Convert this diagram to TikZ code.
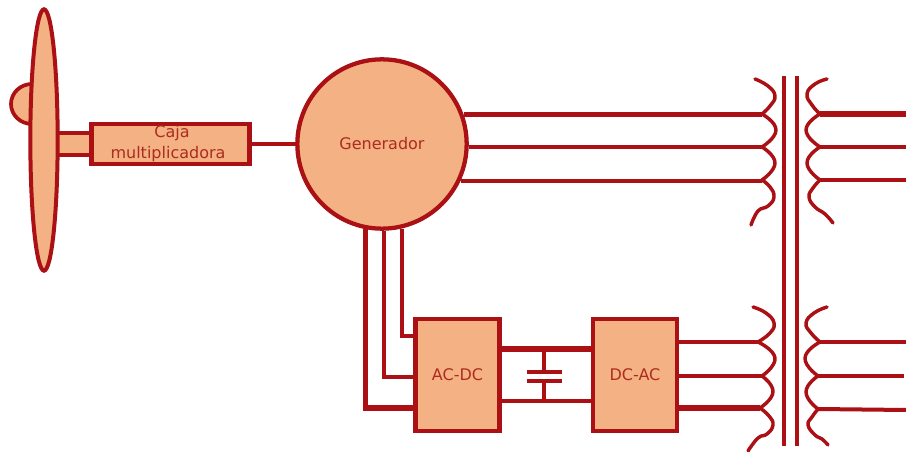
\documentclass[tikz,border=0pt]{standalone}
\usepackage{fontspec}
\setmainfont{DejaVu Sans}
\usetikzlibrary{shapes.geometric}
\definecolor{wline}{RGB}{170,16,20}
\definecolor{wfill}{RGB}{244,177,131}
\definecolor{wtext}{RGB}{172,44,32}
\tikzset{
  every node/.style={text=wtext,font=\fontsize{12pt}{14pt}\selectfont},
  unit/.style={draw=wline,fill=wfill,line width=3.6pt,inner sep=0pt,align=center,line join=miter},
  wire/.style={draw=wline,line width=3pt},
  thick wire/.style={draw=wline,line width=3.8pt},
  thin wire/.style={draw=wline,line width=2.6pt},
  coil/.style={draw=wline,line width=2.6pt,line cap=round,line join=round},
  corebar/.style={draw=wline,line width=3pt},
}
% one winding segment through three points
\newcommand{\seg}[3]{\draw[coil] plot[smooth,tension=0.9] coordinates {#1 #2 #3};}
\begin{document}
\begin{tikzpicture}[x=0.75pt,y=-0.75pt]
\useasboundingbox (0,0) rectangle (906,452);
% hub, shaft
\draw[unit,line width=2.8pt] (32,124) arc[start angle=90,end angle=270,x radius=21,y radius=20] -- cycle;
\draw[fill=wfill,draw=none] (55,134) rectangle (92,154);
\coordinate (s1a) at (55,133); \coordinate (s1b) at (92,133);
\coordinate (s2a) at (55,155); \coordinate (s2b) at (92,155);
\draw[wire] (s1a) -- (s1b);
\draw[wire] (s2a) -- (s2b);
% blade
\node[unit,shape=ellipse,line width=3pt,minimum width=20.5pt,minimum height=196pt,
      inner sep=0pt] (blade) at (44,140) {};
% gearbox
\node[unit,minimum width=118pt,minimum height=30pt] (gear) at (170.5,144) {};
\node (gearlabel1) at (172,133) {Caja};
\node (gearlabel2) at (168,154) {multiplicadora};
% generator
\node[unit,shape=circle,minimum size=127pt,line width=3.2pt] (gen) at (382,144) {Generador};
\draw[wire] (gear.east) -- (gen.west);
% converters
\node[unit,minimum width=62.5pt,minimum height=84pt] (acdc) at (457.5,375) {AC-DC};
\node[unit,minimum width=63pt,minimum height=84pt] (dcac) at (635,375) {DC-AC};
% generator to rectifier
\coordinate (b1) at (416,408); \coordinate (b2) at (416,377); \coordinate (b3) at (416,336);
\draw[thick wire] (gen.259) -- (gen.259 |- b1) -- (b1);
\draw[wire] (gen.271) -- (gen.271 |- b2) -- (b2);
\draw[wire] (gen.283) -- (gen.283 |- b3) -- (b3);
% DC link
\coordinate (ca) at (499,349); \coordinate (cb) at (593,349);
\coordinate (da) at (499,401); \coordinate (db) at (593,401);
\coordinate (capT) at (544,349); \coordinate (capB) at (544,401);
\coordinate (p1) at (544,372); \coordinate (p2) at (544,381);
\coordinate (p1l) at (527,372); \coordinate (p1r) at (562,372);
\coordinate (p2l) at (527,381); \coordinate (p2r) at (562,381);
\draw[thick wire] (ca) -- (cb);
\draw[wire] (da) -- (db);
\draw[wire] (capT) -- (p1);
\draw[wire] (p2) -- (capB);
\draw[wire] (p1l) -- (p1r);
\draw[wire] (p2l) -- (p2r);
% transformer core
\coordinate (c1t) at (784,76); \coordinate (c1b) at (784,446);
\coordinate (c2t) at (797,76); \coordinate (c2b) at (797,446);
\draw[corebar] (c1t) -- (c1b);
\draw[corebar] (c2t) -- (c2b);
% winding junctions
\coordinate (la) at (762,114); \coordinate (lb) at (762,147); \coordinate (lc) at (762,180);
\coordinate (ra) at (820,114); \coordinate (rb) at (820,147); \coordinate (rc) at (820,180);
\coordinate (lla) at (758,342); \coordinate (llb) at (762,376); \coordinate (llc) at (760,408);
\coordinate (rra) at (820,342); \coordinate (rrb) at (818,376); \coordinate (rrc) at (818,409);
% generator to transformer
\draw[thick wire] (gen.20) -- (gen.20 -| la);
\draw[wire] (gen.-2) -- (gen.-2 -| lb);
\draw[wire] (gen.-25) -- (gen.-25 -| lc);
\coordinate (oa) at (906,114); \coordinate (ob) at (906,147); \coordinate (oc) at (906,180);
\draw[thick wire] (ra) -- (oa);
\draw[wire] (rb) -- (ob);
\draw[wire] (rc) -- (oc);
% inverter to transformer
\coordinate (ia) at (677,342); \coordinate (ib) at (677,376); \coordinate (ic) at (677,408);
\draw[wire] (ia) -- (lla);
\draw[wire] (ib) -- (llb);
\draw[thick wire] (ic) -- (llc);
\coordinate (ooa) at (906,342); \coordinate (oob) at (904,376); \coordinate (ooc) at (906,410);
\draw[wire] (rra) -- (ooa);
\draw[wire] (rrb) -- (oob);
\draw[wire] (rrc) -- (ooc);
% upper left winding
\draw[coil] plot[smooth,tension=0.8] coordinates {(755,79) (768,86) (775,96) (770,106) (la)};
\seg{(la)}{(776,130)}{(lb)}
\seg{(lb)}{(775,163)}{(lc)}
\draw[coil] plot[smooth,tension=0.8] coordinates {(lc) (770,187) (774,197) (768,206) (758,211) (751,225)};
% upper right winding
\draw[coil] plot[smooth,tension=0.8] coordinates {(827,79) (815,84) (807,94) (812,105) (ra)};
\seg{(ra)}{(806,130)}{(rb)}
\seg{(rb)}{(807,163)}{(rc)}
\draw[coil] plot[smooth,tension=0.8] coordinates {(rc) (813,188) (809,197) (815,207) (825,214) (833,223)};
% lower left winding
\draw[coil] plot[smooth,tension=0.8] coordinates {(753,307) (766,313) (774,323) (770,333) (lla)};
\seg{(lla)}{(775,358)}{(llb)}
\seg{(llb)}{(773,392)}{(llc)}
\draw[coil] plot[smooth,tension=0.8] coordinates {(llc) (769,416) (773,425) (767,434) (758,438) (748,451)};
% lower right winding
\draw[coil] plot[smooth,tension=0.8] coordinates {(827,307) (814,313) (806,323) (811,333) (rra)};
\seg{(rra)}{(805,358)}{(rrb)}
\seg{(rrb)}{(806,392)}{(rrc)}
\draw[coil] plot[smooth,tension=0.8] coordinates {(rrc) (812,417) (808,425) (815,435) (822,439) (828,445)};
\end{tikzpicture}
\end{document}
